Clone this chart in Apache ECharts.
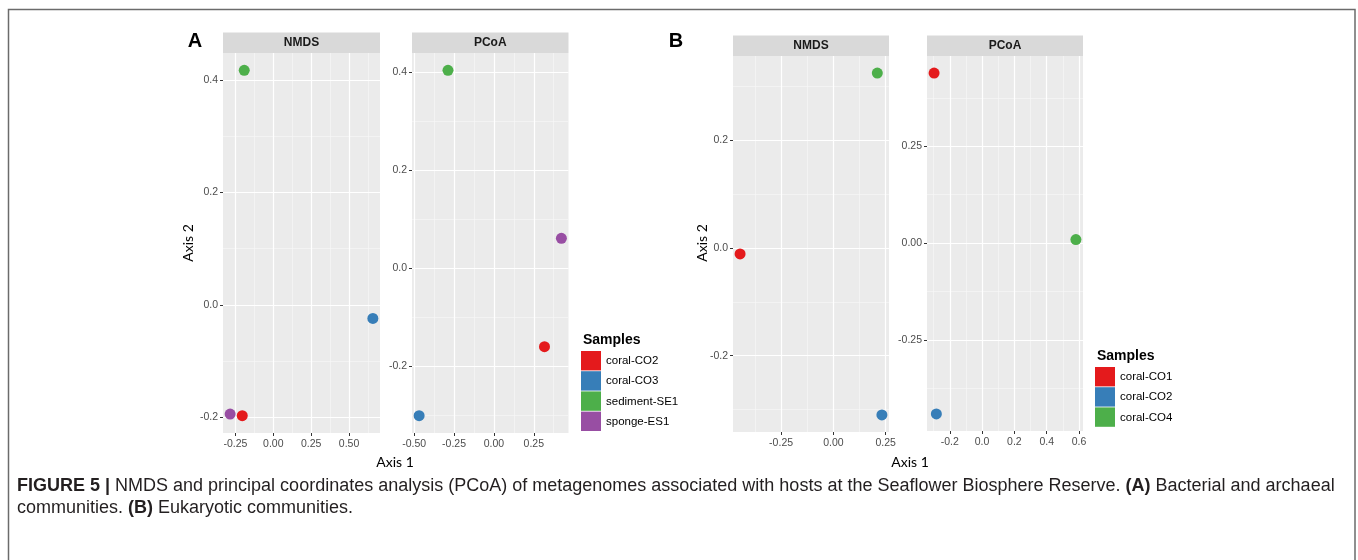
<!DOCTYPE html>
<html><head><meta charset="utf-8">
<script src="https://cdn.jsdelivr.net/npm/echarts@6/dist/echarts.min.js"></script>
<style>html,body{margin:0;padding:0;background:#fff}#c{width:1358px;height:560px}</style>
</head><body><div id="c"></div>
<script>
// ---------- data ----------
const groupsA = ['coral-CO2', 'coral-CO3', 'sediment-SE1', 'sponge-ES1'];
const colorsA = ['#e41a1c', '#377eb8', '#4daf4a', '#984ea3'];
const nmdsAX = [-0.205, 0.657, -0.192, -0.285];
const nmdsAY = [-0.197, -0.024, 0.417, -0.194];
const pcoaAX = [0.317, -0.469, -0.288, 0.423];
const pcoaAY = [-0.160, -0.301, 0.404, 0.061];

const groupsB = ['coral-CO1', 'coral-CO2', 'coral-CO4'];
const colorsB = ['#e41a1c', '#377eb8', '#4daf4a'];
const nmdsBX = [-0.446, 0.232, 0.210];
const nmdsBY = [-0.011, -0.310, 0.325];
const pcoaBX = [-0.297, -0.283, 0.581];
const pcoaBY = [0.439, -0.4415, 0.009];

// tick labels
const nmdsAXTicks = ['-0.25', '0.00', '0.25', '0.50'];
const nmdsAYTicks = ['-0.2', '0.0', '0.2', '0.4'];
const pcoaAXTicks = ['-0.50', '-0.25', '0.00', '0.25'];
const pcoaAYTicks = ['-0.2', '0.0', '0.2', '0.4'];
const nmdsBXTicks = ['-0.25', '0.00', '0.25'];
const nmdsBYTicks = ['-0.2', '0.0', '0.2'];
const pcoaBXTicks = ['-0.2', '0.0', '0.2', '0.4', '0.6'];
const pcoaBYTicks = ['-0.25', '0.00', '0.25'];

const stripLabels = ['NMDS', 'PCoA', 'NMDS', 'PCoA'];
const captionBold1 = 'FIGURE 5 | ';
const captionText1 = 'NMDS and principal coordinates analysis (PCoA) of metagenomes associated with hosts at the Seaflower Biosphere Reserve. ';
const captionBoldA = '(A)';
const captionText1b = ' Bacterial and archaeal';
const captionText2 = 'communities. ';
const captionBoldB = '(B)';
const captionText2b = ' Eukaryotic communities.';

// ---------- layout ----------
const panels = [
  {grid: {left: 223, top: 53, width: 157, height: 380}, xs: nmdsAX, ys: nmdsAY, xt: nmdsAXTicks, yt: nmdsAYTicks, groups: groupsA, colors: colorsA},
  {grid: {left: 412, top: 53, width: 156.5, height: 380}, xs: pcoaAX, ys: pcoaAY, xt: pcoaAXTicks, yt: pcoaAYTicks, groups: groupsA, colors: colorsA},
  {grid: {left: 733, top: 56, width: 156, height: 376}, xs: nmdsBX, ys: nmdsBY, xt: nmdsBXTicks, yt: nmdsBYTicks, groups: groupsB, colors: colorsB},
  {grid: {left: 927, top: 56, width: 156, height: 375}, xs: pcoaBX, ys: pcoaBY, xt: pcoaBXTicks, yt: pcoaBYTicks, groups: groupsB, colors: colorsB}
];

function expand(vals) {
  const lo = Math.min(...vals), hi = Math.max(...vals), d = (hi - lo) * 0.05;
  return [lo - d, hi + d];
}
function minors(major, lo, hi) {
  const v = major.map(Number);
  const step = v[1] - v[0];
  const out = [];
  for (let m = v[0] - step / 2; m <= hi; m += step) if (m >= lo) out.push(+m.toFixed(6));
  return out;
}
const FONT = 'Liberation Sans, Arial, sans-serif';

const grids = [], xAxes = [], yAxes = [], series = [];
panels.forEach((p, i) => {
  grids.push(Object.assign({show: true, backgroundColor: '#ebebeb', borderWidth: 0, containLabel: false}, p.grid));
  [['x', p.xs, p.xt], ['y', p.ys, p.yt]].forEach(([dim, vals, ticks]) => {
    const [lo, hi] = expand(vals);
    const tv = ticks.map(Number);
    const major = {
      type: 'value', gridIndex: i, min: lo, max: hi, scale: true,
      position: dim === 'x' ? 'bottom' : 'left',
      axisLine: {show: false, onZero: false},
      axisTick: {show: true, length: 3, lineStyle: {color: '#333', width: 1}, customValues: tv},
      axisLabel: {
        customValues: tv, color: '#4d4d4d', fontSize: 10.5, fontFamily: FONT, margin: dim === 'x' ? 6 : 5,
        showMinLabel: true, showMaxLabel: true,
        formatter: v => { const k = tv.findIndex(t => Math.abs(t - v) < 1e-6); return k >= 0 ? ticks[k] : ''; }
      },
      splitLine: {show: true, lineStyle: {color: '#ffffff', width: 1.2}},
      z: 3
    };
    const mv = minors(ticks, lo, hi);
    const minor = {
      type: 'value', gridIndex: i, min: lo, max: hi, scale: true,
      position: dim === 'x' ? 'bottom' : 'left',
      axisLine: {show: false, onZero: false},
      axisTick: {show: false, customValues: mv},
      axisLabel: {show: false, customValues: mv},
      splitLine: {show: true, lineStyle: {color: '#f7f7f7', width: 0.7}},
      z: 2
    };
    if (dim === 'x') xAxes.push(major, minor); else yAxes.push(major, minor);
  });
  p.groups.forEach((g, k) => {
    series.push({
      type: 'scatter', name: g, xAxisIndex: 2 * i, yAxisIndex: 2 * i,
      data: [[p.xs[k], p.ys[k]]], symbolSize: 11,
      itemStyle: {color: p.colors[k], opacity: 1, borderWidth: 0},
      silent: true, z: 5
    });
  });
});

// ---------- graphics ----------
const graphic = [];
graphic.push({type: 'rect', shape: {x: 8.5, y: 9.5, width: 1346.5, height: 600}, style: {fill: 'none', stroke: '#6b6b6b', lineWidth: 1.5}, silent: true});
panels.forEach((p, i) => {
  const g = p.grid, h = 20.5;
  graphic.push({type: 'rect', shape: {x: g.left, y: g.top - h, width: g.width, height: h}, style: {fill: '#d9d9d9'}, silent: true});
  graphic.push({type: 'text', x: g.left + g.width / 2, y: g.top - h / 2, style: {text: stripLabels[i], fill: '#1a1a1a', font: 'bold 12px ' + FONT, align: 'center', verticalAlign: 'middle'}, silent: true});
});
// panel letters
graphic.push({type: 'text', x: 195, y: 41, style: {text: 'A', fill: '#000', font: 'bold 20px ' + FONT, align: 'center', verticalAlign: 'middle'}});
graphic.push({type: 'text', x: 676, y: 41, style: {text: 'B', fill: '#000', font: 'bold 20px ' + FONT, align: 'center', verticalAlign: 'middle'}});
// axis titles
const AXF = '14px Lato, "Open Sans", sans-serif';
graphic.push({type: 'text', x: 188, y: 243, rotation: Math.PI / 2, style: {text: 'Axis 2', fill: '#000', font: AXF, align: 'center', verticalAlign: 'middle'}});
graphic.push({type: 'text', x: 395, y: 462, style: {text: 'Axis 1', fill: '#000', font: AXF, align: 'center', verticalAlign: 'middle'}});
graphic.push({type: 'text', x: 702, y: 243, rotation: Math.PI / 2, style: {text: 'Axis 2', fill: '#000', font: AXF, align: 'center', verticalAlign: 'middle'}});
graphic.push({type: 'text', x: 910, y: 462, style: {text: 'Axis 1', fill: '#000', font: AXF, align: 'center', verticalAlign: 'middle'}});
// legends
function legend(x, y, groups, colors) {
  graphic.push({type: 'text', x: x + 2, y: y, style: {text: 'Samples', fill: '#000', font: 'bold 14px ' + FONT, align: 'left', verticalAlign: 'middle'}});
  groups.forEach((g, k) => {
    const ky = y + 11 + k * 20.2;
    graphic.push({type: 'rect', shape: {x: x, y: ky, width: 20, height: 19.4}, style: {fill: colors[k]}});
    graphic.push({type: 'text', x: x + 25, y: ky + 10, style: {text: g, fill: '#000', font: '11.5px ' + FONT, align: 'left', verticalAlign: 'middle'}});
  });
}
legend(581, 340, groupsA, colorsA);
legend(1095, 356, groupsB, colorsB);
// caption
const capRich = {
  b: {font: 'bold 18px ' + FONT, fill: '#231f20'},
  r: {font: '18px ' + FONT, fill: '#231f20'}
};
graphic.push({type: 'text', x: 17, y: 486, style: {
  text: '{b|' + captionBold1 + '}{r|' + captionText1 + '}{b|' + captionBoldA + '}{r|' + captionText1b + '}',
  rich: capRich, verticalAlign: 'middle', align: 'left'}});
graphic.push({type: 'text', x: 17, y: 508, style: {
  text: '{r|' + captionText2 + '}{b|' + captionBoldB + '}{r|' + captionText2b + '}',
  rich: capRich, verticalAlign: 'middle', align: 'left'}});

const chart = echarts.init(document.getElementById('c'), null, {renderer: 'canvas'});
chart.setOption({
  animation: false,
  backgroundColor: '#ffffff',
  grid: grids, xAxis: xAxes, yAxis: yAxes, series: series, graphic: graphic
});
</script></body></html>
